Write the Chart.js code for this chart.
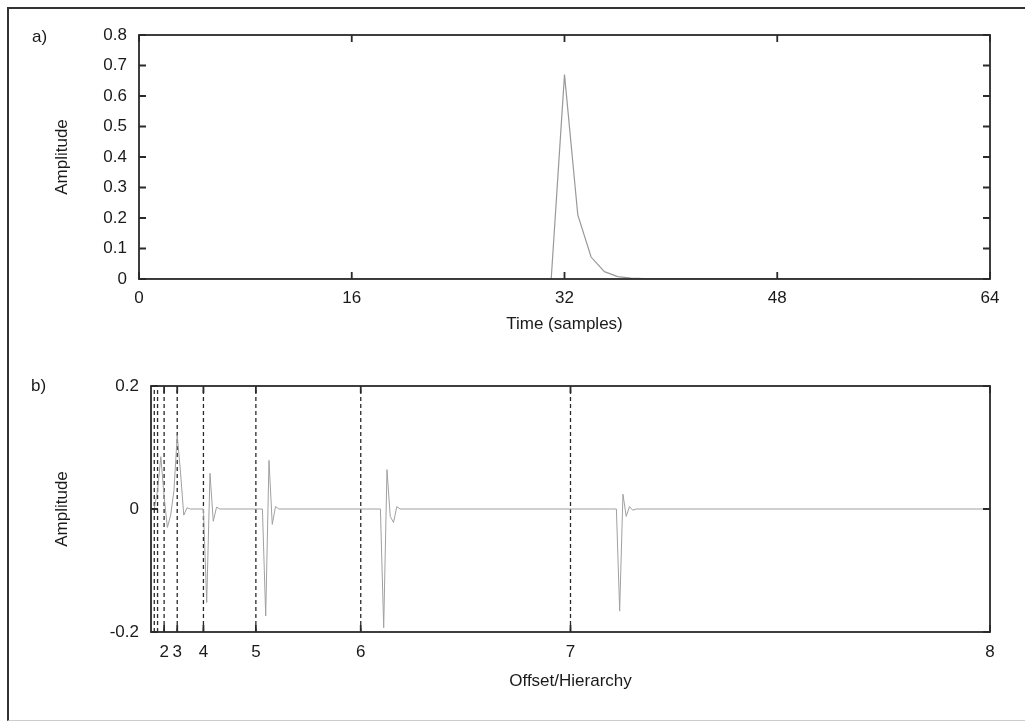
<!DOCTYPE html>
<html>
<head>
<meta charset="utf-8">
<script src="https://cdn.jsdelivr.net/npm/chart.js@4.4.1/dist/chart.umd.min.js"></script>
<style>
  html, body { margin: 0; padding: 0; background: #fff; overflow: hidden; }
  #page { position: relative; width: 1025px; height: 722px; font-family: "Liberation Sans", Arial, sans-serif; color: #1a1a1a; }
  #frame { position: absolute; left: 7px; top: 7px; width: 1040px; height: 711px; border-left: 2px solid #333; border-top: 2px solid #333; border-bottom: 1px solid #ccc; }
  .panel { position: absolute; left: 0; }
  .tag { position: absolute; font-size: 17px; }
</style>
</head>
<body>
<div id="page">
  <div id="frame"></div>
  <canvas id="chartA" class="panel" width="1025" height="338" style="top:0"></canvas>
  <canvas id="chartB" class="panel" width="1025" height="346" style="top:350px"></canvas>
  <div class="tag" style="left:32px;top:27px">a)</div>
  <div class="tag" style="left:31px;top:376px">b)</div>
</div>
<script>
// panel a: input pulse
const pulseTime = [0, 31, 32, 33, 34, 35, 36, 37, 38, 64];
const pulseAmp  = [0, 0, 0.67, 0.21, 0.072, 0.024, 0.008, 0.003, 0.001, 0];
const timeTicks = [0, 16, 32, 48, 64];
const ampTicks  = [0, 0.1, 0.2, 0.3, 0.4, 0.5, 0.6, 0.7, 0.8];

// panel b: coefficients in hierarchical order (sample index 0..256)
const coefIndex = [0, 1, 2, 3, 4, 5, 6, 7, 8, 9, 10, 11, 12,
                   16, 17, 18, 19, 20, 21,
                   34, 35, 36, 37, 38, 39,
                   70, 71, 72, 73, 74, 75, 76,
                   142, 143, 144, 145, 146, 147, 148,
                   256];
const coefValue = [0, 0, 0.03, 0.085, 0.02, -0.03, -0.01, 0.03, 0.12, 0.06, -0.01, 0.002, 0,
                   0, -0.152, 0.058, -0.02, 0.003, 0,
                   0, -0.174, 0.079, -0.025, 0.004, 0,
                   0, -0.193, 0.064, -0.012, -0.022, 0.004, 0,
                   0, -0.166, 0.024, -0.012, 0.004, -0.002, 0,
                   0];
const levelStarts = [1, 2, 4, 8, 16, 32, 64, 128];
const hierTicks  = [4, 8, 16, 32, 64, 128, 256];
const hierLabels = ['2', '3', '4', '5', '6', '7', '8'];
const coefTicks  = [-0.2, 0, 0.2];

const FONT = { family: '"Liberation Sans", Arial, sans-serif', size: 17 };
const INK = '#1a1a1a';

// box round the plot area plus gnuplot-style inward ticks on all sides
const boxTicks = {
    id: 'boxTicks',
    afterDatasetsDraw(chart) {
        const { ctx, chartArea: a, scales } = chart;
        ctx.save();
        ctx.strokeStyle = '#2a2a2a';
        ctx.lineWidth = 1.8;
        ctx.strokeRect(a.left, a.top, a.right - a.left, a.bottom - a.top);
        ctx.beginPath();
        scales.x.ticks.forEach(t => {
            const px = scales.x.getPixelForValue(t.value);
            ctx.moveTo(px, a.bottom); ctx.lineTo(px, a.bottom - 7);
            ctx.moveTo(px, a.top); ctx.lineTo(px, a.top + 7);
        });
        scales.y.ticks.forEach(t => {
            const py = scales.y.getPixelForValue(t.value);
            ctx.moveTo(a.left, py); ctx.lineTo(a.left + 7, py);
            ctx.moveTo(a.right, py); ctx.lineTo(a.right - 7, py);
        });
        ctx.stroke();
        ctx.restore();
    }
};

function axis(extra) {
    return Object.assign({
        type: 'linear',
        grid: { display: false, drawTicks: false },
        border: { display: false },
        ticks: { color: INK, font: FONT, autoSkip: false, maxRotation: 0, minRotation: 0 },
        title: { display: true, color: INK, font: FONT }
    }, extra);
}

new Chart(document.getElementById('chartA'), {
    type: 'line',
    data: {
        datasets: [{
            data: pulseTime.map((t, i) => ({ x: t, y: pulseAmp[i] })),
            borderColor: '#999',
            borderWidth: 1.2,
            pointRadius: 0,
            tension: 0
        }]
    },
    options: {
        responsive: false,
        animation: false,
        devicePixelRatio: 1,
        layout: { padding: { top: 35, left: 0, right: 35, bottom: 0 } },
        plugins: { legend: { display: false }, tooltip: { enabled: false } },
        scales: {
            x: axis({
                min: 0, max: 64,
                afterBuildTicks: s => { s.ticks = timeTicks.map(v => ({ value: v })); },
                afterFit: s => { s.height = 59; },
                ticks: { color: INK, font: FONT, padding: 9, autoSkip: false, maxRotation: 0, minRotation: 0 },
                title: { display: true, text: 'Time (samples)', color: INK, font: FONT, padding: { top: 0, bottom: 3 } }
            }),
            y: axis({
                min: 0, max: 0.8,
                afterBuildTicks: s => { s.ticks = ampTicks.map(v => ({ value: v })); },
                afterFit: s => { s.width = 139; },
                ticks: { color: INK, font: FONT, padding: 12, callback: v => String(+v.toFixed(1)) },
                title: { display: true, text: 'Amplitude', color: INK, font: FONT, padding: { top: 52, bottom: 0 } }
            })
        }
    },
    plugins: [boxTicks]
});

const levelSets = levelStarts.map(k => ({
    data: [{ x: k, y: -0.2 }, { x: k, y: 0.2 }],
    borderColor: '#2a2a2a',
    borderWidth: 1.3,
    borderDash: [4, 3],
    pointRadius: 0
}));

new Chart(document.getElementById('chartB'), {
    type: 'line',
    data: {
        datasets: [{
            data: coefIndex.map((s, i) => ({ x: s, y: coefValue[i] })),
            borderColor: '#a0a0a0',
            borderWidth: 1,
            pointRadius: 0,
            tension: 0
        }].concat(levelSets)
    },
    options: {
        responsive: false,
        animation: false,
        devicePixelRatio: 1,
        layout: { padding: { top: 36, left: 0, right: 35, bottom: 0 } },
        plugins: { legend: { display: false }, tooltip: { enabled: false } },
        scales: {
            x: axis({
                min: 0, max: 256,
                afterBuildTicks: s => { s.ticks = hierTicks.map(v => ({ value: v })); },
                afterFit: s => { s.height = 64; },
                ticks: {
                    color: INK, font: FONT, padding: 10, autoSkip: false, maxRotation: 0, minRotation: 0,
                    callback: v => hierLabels[hierTicks.indexOf(v)]
                },
                title: { display: true, text: 'Offset/Hierarchy', color: INK, font: FONT, padding: { top: 0, bottom: 4 } }
            }),
            y: axis({
                min: -0.2, max: 0.2,
                afterBuildTicks: s => { s.ticks = coefTicks.map(v => ({ value: v })); },
                afterFit: s => { s.width = 151; },
                ticks: { color: INK, font: FONT, padding: 12, callback: v => String(+v.toFixed(1)) },
                title: { display: true, text: 'Amplitude', color: INK, font: FONT, padding: { top: 52, bottom: 0 } }
            })
        }
    },
    plugins: [boxTicks]
});
</script>
</body>
</html>
